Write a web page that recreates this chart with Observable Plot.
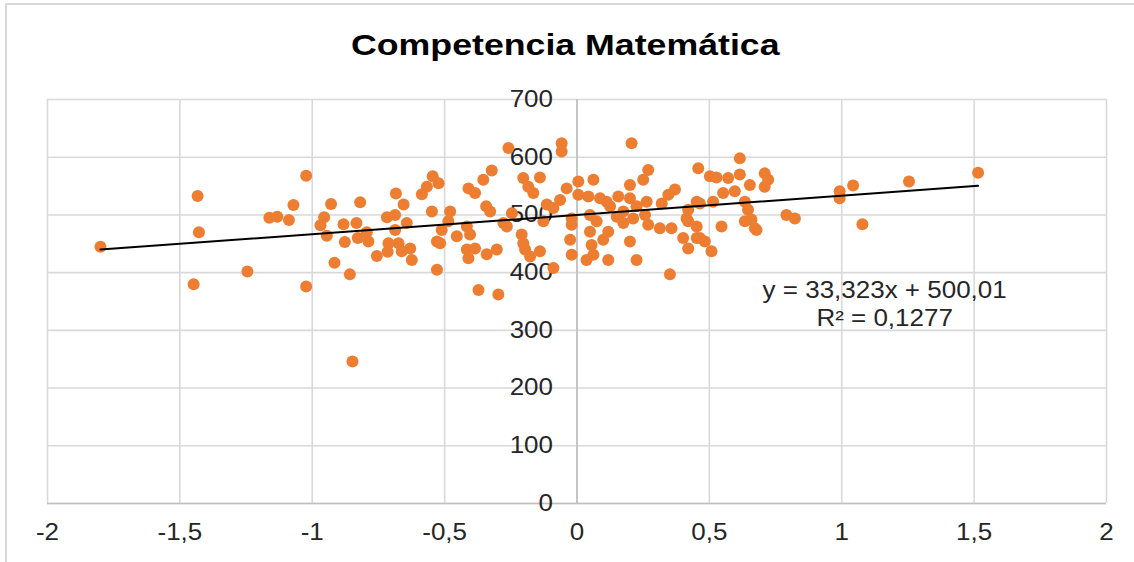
<!DOCTYPE html>
<html><head><meta charset="utf-8">
<script src="https://cdn.jsdelivr.net/npm/d3@7"></script>
<script src="https://cdn.jsdelivr.net/npm/@observablehq/plot@0.6"></script>
<style>
body{margin:0;background:#fff;}
#wrap{position:relative;width:1134px;height:562px;overflow:hidden;font-family:"Liberation Sans",Arial,sans-serif;background:#fff;}
#border{position:absolute;left:5px;top:3px;width:1150px;height:580px;border:2px solid #d9d9d9;box-sizing:border-box;}
#title{position:absolute;left:0;width:1134px;top:28px;line-height:34px;text-align:center;font-size:30px;font-weight:bold;color:#000;transform:scaleX(1.19);transform-origin:576px 0;}
#chart{position:absolute;left:0;top:0;}
</style></head><body>
<div id="wrap"><div id="border"></div><div id="title">Competencia Matemática</div><div id="chart"></div></div>
<script>
// Scatter values
const xs = [-1.80,-1.433,-1.428,-1.448,-1.245,-1.023,-1.023,-1.162,-1.132,-1.088,-1.071,-0.848,-0.929,-0.819,-0.955,-0.969,-0.945,-0.882,-0.833,-0.877,-0.916,-0.858,-0.794,-0.828,-0.788,-0.756,-0.715,-0.712,-0.718,-0.687,-0.684,
 -0.545,-0.523,-0.567,-0.586,-0.655,-0.548,-0.643,-0.687,-0.674,-0.630,-0.662,-0.624,-0.529,-0.517,-0.529,-0.479,-0.486,-0.511,-0.454,-0.416,-0.404,-0.410,-0.385,-0.354,-0.322,-0.343,-0.328,-0.416,-0.385,-0.410,-0.341,-0.303,-0.372,-0.297,-0.278,-0.259,-0.246,-0.265,-0.203,-0.209,-0.203,-0.196,-0.177,-0.165,-0.184,
 -0.058,-0.058,0.206,-0.140,-0.140,-0.089,-0.127,-0.114,-0.089,-0.064,-0.039,0.005,0.062,0.005,-0.020,-0.020,-0.026,-0.020,0.043,0.087,0.049,0.074,0.049,0.055,0.099,0.118,0.036,0.062,0.118,0.112,0.125,0.156,0.150,0.175,0.175,0.200,0.200,0.250,0.269,0.225,0.212,0.200,0.225,0.263,0.257,0.269,0.313,0.320,0.345,0.370,0.357,0.401,0.420,0.420,0.414,0.351,0.458,0.452,0.452,
 0.615,0.502,0.527,0.571,0.552,0.596,0.615,0.653,0.709,0.722,0.709,0.634,0.646,0.514,0.464,0.420,0.452,0.464,0.483,0.508,0.546,0.634,0.659,0.678,0.791,0.823,
 0.672,0.992,0.992,1.043,1.078,1.254,1.515];
const ys = [445,533,470,380,402,568,376,495,497,491,517,246,519,522,496,482,464,484,486,453,417,397,470,460,454,429,436,451,496,500,537,
 567,555,549,536,518,506,486,474,451,442,437,422,454,451,405,506,489,474,463,480,466,546,538,561,577,515,506,440,442,425,432,440,370,362,486,616,503,480,564,466,451,440,428,538,549,
 624,610,624,565,437,408,489,518,512,526,546,558,561,535,494,483,457,431,532,529,500,489,471,448,457,471,422,431,422,523,515,532,497,506,486,529,552,561,578,515,494,454,422,523,500,483,477,520,535,544,477,460,442,509,494,397,581,523,460,
 598,567,565,564,538,541,570,552,572,561,549,523,509,523,520,489,480,460,454,437,480,489,492,474,500,494,
 477,541,529,551,484,558,573];
const xTicks = [-2,-1.5,-1,-0.5,0,0.5,1,1.5,2];
const yTicks = [0,100,200,300,400,500,600,700];
const slope = 33.323, intercept = 500.01;
const eqLines = ["y = 33,323x + 500,01", "R² = 0,1277"];
const eqX = 1.162, eqY = [369, 321];

const pts = xs.map((x,i)=>({x, y: ys[i]}));
const x0 = d3.min(xs), x1 = d3.max(xs);
const trend = [x0, x1].map(x=>({x, y: slope*x + intercept}));
const fmt = d => String(d).replace(".", ",");
const ink = "#262626";

const chart = Plot.plot({
  width: 1134, height: 562,
  marginTop: 99, marginBottom: 59, marginLeft: 47, marginRight: 28,
  x: {domain: [-2, 2]},
  y: {domain: [0, 700], axis: null},
  style: {fontFamily: "'Liberation Sans', Arial, sans-serif", background: "transparent", color: ink},
  marks: [
    Plot.gridX(xTicks, {stroke: "#d9d9d9", strokeOpacity: 1, strokeWidth: 1.6}),
    Plot.gridY(yTicks, {stroke: "#d9d9d9", strokeOpacity: 1, strokeWidth: 1.6}),
    Plot.ruleX([0], {stroke: "#bfbfbf", strokeWidth: 1.6}),
    Plot.ruleY([0], {stroke: "#bfbfbf", strokeWidth: 1.6}),
    Plot.axisX(xTicks, {tickSize: 0, tickPadding: 20, tickFormat: fmt, fontSize: 23, fill: ink, label: null}),
    Plot.text(yTicks, {x: () => 0, y: d => d, text: d => fmt(d), textAnchor: "end", dx: -24, fontSize: 23, fill: ink}),
    Plot.dot(pts, {x: "x", y: "y", r: 6, fill: "#ED7D31", stroke: "none"}),
    Plot.line(trend, {x: "x", y: "y", stroke: "#000", strokeWidth: 2}),
    Plot.text(eqLines, {x: () => eqX, y: (d, i) => eqY[i], text: d => d, fontSize: 23, fill: ink, textAnchor: "middle"})
  ]
});
chart.querySelectorAll("text").forEach(t => {
  const tr = t.getAttribute("transform");
  if (tr) t.setAttribute("transform", tr + " scale(1.13,1)");
});
document.getElementById("chart").appendChild(chart);
</script>
</body></html>
